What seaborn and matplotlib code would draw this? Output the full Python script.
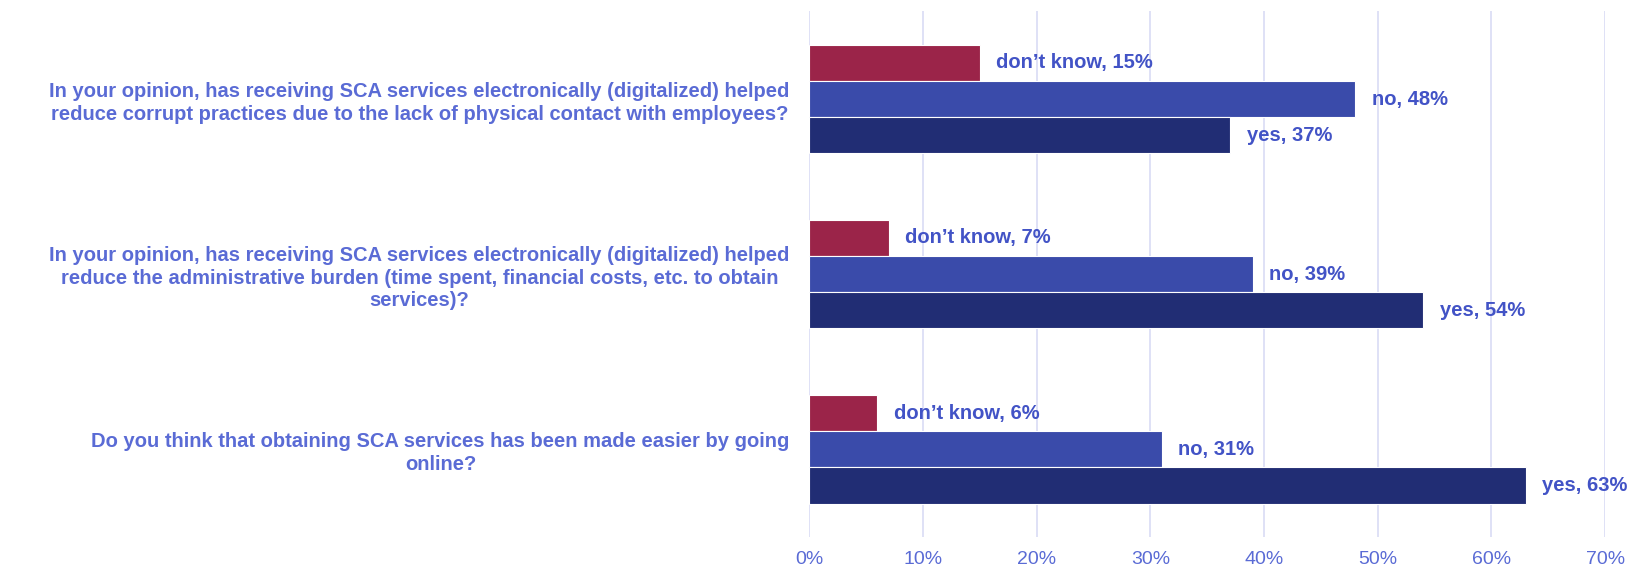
import matplotlib
matplotlib.use("Agg")
import matplotlib.pyplot as plt
import seaborn as sns
import pandas as pd

questions = [
    "In your opinion, has receiving SCA services electronically (digitalized) helped\nreduce corrupt practices due to the lack of physical contact with employees?",
    "In your opinion, has receiving SCA services electronically (digitalized) helped\nreduce the administrative burden (time spent, financial costs, etc. to obtain\nservices)?",
    "Do you think that obtaining SCA services has been made easier by going\nonline?",
]
answers = ["don\u2019t know", "no", "yes"]
dont_know = [15, 7, 6]
no_vals = [48, 39, 31]
yes_vals = [37, 54, 63]
x_ticks = [0, 10, 20, 30, 40, 50, 60, 70]

rows = []
for q, d, n, y in zip(questions, dont_know, no_vals, yes_vals):
    for a, v in zip(answers, (d, n, y)):
        rows.append({"question": q, "answer": a, "value": v})
df = pd.DataFrame(rows)

palette = {"don\u2019t know": "#9B2449", "no": "#3A4BAA", "yes": "#212D74"}
label_color = "#4253C6"
axis_text = "#5A6BD5"
grid_color = "#D9DCF5"

sns.set_theme(style="white")
plt.rcParams["font.family"] = ["Liberation Sans", "DejaVu Sans"]

fig = plt.figure(figsize=(16.28, 5.73), dpi=100)
ax = fig.add_axes([0.497, 0.063, 0.489, 0.917])

sns.barplot(data=df, y="question", x="value", hue="answer", order=questions,
            hue_order=answers, palette=palette, orient="h", width=0.62,
            saturation=1, edgecolor="white", linewidth=0.8, legend=False, ax=ax)

ax.set_xlim(0, 70)
ax.set_xticks(x_ticks)
ax.set_xticklabels([f"{t}%" for t in x_ticks], color=axis_text, fontsize=14)
ax.xaxis.grid(True, color=grid_color, linewidth=1.2)
ax.set_axisbelow(True)
for s in ax.spines.values():
    s.set_visible(False)
ax.tick_params(axis="x", length=0, pad=10)
ax.tick_params(axis="y", length=0, pad=14)
ax.set_xlabel("")
ax.set_ylabel("")
for t in ax.get_yticklabels():
    t.set_multialignment("center")
    t.set_color(axis_text)
    t.set_fontsize(14.5)
    t.set_fontweight("bold")
    t.set_linespacing(1.25)

for container, ans in zip(ax.containers, answers):
    labels = [f"{ans}, {v:g}%" for v in container.datavalues]
    texts = ax.bar_label(container, labels=labels, padding=12, color=label_color,
                         fontsize=14.5, fontweight="bold")
    for t in texts:
        t.set_clip_on(False)

fig.savefig("out.png", dpi=100)
